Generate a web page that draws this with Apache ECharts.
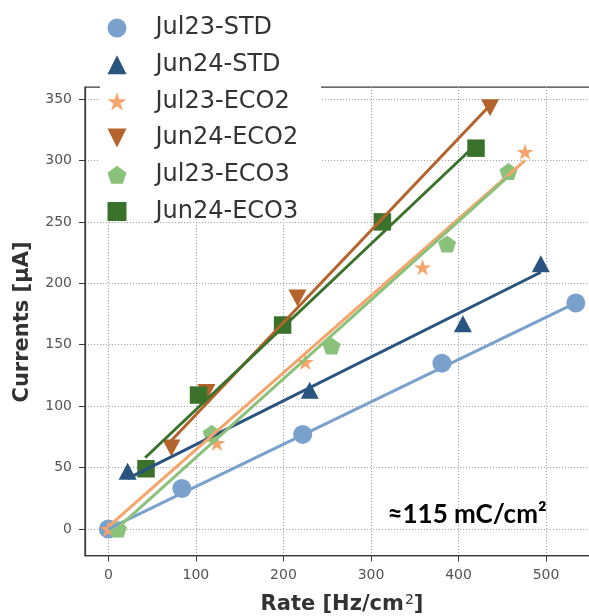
<!DOCTYPE html>
<html>
<head>
<meta charset="utf-8">
<script src="https://cdn.jsdelivr.net/npm/echarts@6/dist/echarts.min.js"></script>
<style>
  html, body { margin: 0; padding: 0; background: #ffffff; }
  #chart { width: 589px; height: 616px; }
</style>
</head>
<body>
<div id="chart"></div>
<script>
// ---- measured currents vs. rate ----
const seriesNames = ['Jul23-STD', 'Jun24-STD', 'Jul23-ECO2', 'Jun24-ECO2', 'Jul23-ECO3', 'Jun24-ECO3'];

const jul23StdRate = [0, 84, 222, 381, 534];
const jul23StdCurrent = [0, 33, 77, 135, 184];

const jun24StdRate = [22, 230, 405, 494];
const jun24StdCurrent = [47, 113, 167, 216];

const jul23Eco2Rate = [0, 124, 225, 359, 476];
const jul23Eco2Current = [0, 70, 136, 213, 307];

const jun24Eco2Rate = [72, 112, 216, 436];
const jun24Eco2Current = [66, 111, 188, 343];

const jul23Eco3Rate = [11, 118, 255, 387, 457];
const jul23Eco3Current = [0, 78, 149, 232, 291];

const jun24Eco3Rate = [43, 103, 199, 313, 420];
const jun24Eco3Current = [49, 109, 166, 250, 310];

// ---- linear fits (start / end of each fitted line) ----
const jul23StdFitRate = [0, 534];
const jul23StdFitCurrent = [0, 184];
const jun24StdFitRate = [22, 494];
const jun24StdFitCurrent = [41, 209];
const jul23Eco2FitRate = [0, 476];
const jul23Eco2FitCurrent = [2, 300];
const jun24Eco2FitRate = [72, 436];
const jun24Eco2FitCurrent = [72, 345];
const jul23Eco3FitRate = [11, 457];
const jul23Eco3FitCurrent = [1, 287];
const jun24Eco3FitRate = [42, 420];
const jun24Eco3FitCurrent = [58, 313];

// ---- axis ticks ----
const rateTicks = [0, 100, 200, 300, 400, 500];
const currentTicks = [0, 50, 100, 150, 200, 250, 300, 350];

const colors = ['#7aa1cc', '#28547f', '#f5a46c', '#b3632b', '#8bc27b', '#3b722b'];

const starPath = 'path://M100,0 L122.45,69.1 L195.11,69.1 L136.33,111.8 L158.78,180.9 L100,138.2 L41.22,180.9 L63.67,111.8 L4.89,69.1 L77.55,69.1 Z';
const pentagonPath = 'path://M100,0 L195.11,69.1 L158.78,180.9 L41.22,180.9 L4.89,69.1 Z';
const downTrianglePath = 'path://M0,0 L200,0 L100,200 Z';

const pairs = (xs, ys) => xs.map((x, i) => [x, ys[i]]);

const groups = [
  { rate: jul23StdRate, cur: jul23StdCurrent, fitRate: jul23StdFitRate, fitCur: jul23StdFitCurrent,
    symbol: 'circle', size: 19 },
  { rate: jun24StdRate, cur: jun24StdCurrent, fitRate: jun24StdFitRate, fitCur: jun24StdFitCurrent,
    symbol: 'triangle', size: [18, 17] },
  { rate: jul23Eco2Rate, cur: jul23Eco2Current, fitRate: jul23Eco2FitRate, fitCur: jul23Eco2FitCurrent,
    symbol: starPath, size: [17, 16] },
  { rate: jun24Eco2Rate, cur: jun24Eco2Current, fitRate: jun24Eco2FitRate, fitCur: jun24Eco2FitCurrent,
    symbol: downTrianglePath, size: [18, 17] },
  { rate: jul23Eco3Rate, cur: jul23Eco3Current, fitRate: jul23Eco3FitRate, fitCur: jul23Eco3FitCurrent,
    symbol: pentagonPath, size: [18, 17] },
  { rate: jun24Eco3Rate, cur: jun24Eco3Current, fitRate: jun24Eco3FitRate, fitCur: jun24Eco3FitCurrent,
    symbol: 'rect', size: 17.5 }
];

const series = [];
groups.forEach((g, i) => {
  series.push({
    name: seriesNames[i],
    type: 'scatter',
    data: pairs(g.rate, g.cur),
    symbol: g.symbol,
    symbolSize: g.size,
    itemStyle: { color: colors[i], opacity: 1 },
    z: 2,
    silent: true
  });
  series.push({
    name: seriesNames[i] + ' fit',
    type: 'line',
    data: pairs(g.fitRate, g.fitCur),
    showSymbol: false,
    symbol: 'none',
    lineStyle: { color: colors[i], width: 3 },
    z: 3,
    silent: true,
    animation: false
  });
});

// plot frame (right edge of the frame lies just past the canvas edge)
const gridLeft = 85, gridTop = 87, gridWidth = 514.2, gridHeight = 468.5;

const chart = echarts.init(document.getElementById('chart'), null, { renderer: 'canvas' });
chart.setOption({
  animation: false,
  backgroundColor: '#ffffff',
  color: colors,
  grid: {
    left: gridLeft, top: gridTop, width: gridWidth, height: gridHeight,
    containLabel: false,
    outerBoundsMode: 'none',
    show: true,
    borderColor: '#3a3a3a',
    borderWidth: 1.25,
    backgroundColor: 'transparent'
  },
  xAxis: {
    type: 'value',
    min: -26.7, max: 560.7,
    axisLine: { show: true, onZero: false, lineStyle: { color: '#3a3a3a', width: 1.25 } },
    axisTick: { show: true, length: 6, customValues: rateTicks, lineStyle: { color: '#3a3a3a', width: 1 } },
    axisLabel: { customValues: rateTicks, color: '#555555', fontSize: 14, fontFamily: 'DejaVu Sans', margin: 13 },
    splitLine: { show: true, lineStyle: { color: '#a8a8a8', width: 1, type: [1.2, 1.8] } }
  },
  yAxis: {
    type: 'value',
    min: -21.6, max: 359.8,
    axisLine: { show: true, onZero: false, lineStyle: { color: '#3a3a3a', width: 1.25 } },
    axisTick: { show: true, length: 6, customValues: currentTicks, lineStyle: { color: '#3a3a3a', width: 1 } },
    axisLabel: { customValues: currentTicks, color: '#555555', fontSize: 14, fontFamily: 'DejaVu Sans', margin: 13 },
    splitLine: { show: true, lineStyle: { color: '#a8a8a8', width: 1, type: [1.2, 1.8] } }
  },
  legend: {
    show: true,
    orient: 'vertical',
    left: 102.5,
    top: 11,
    itemWidth: 19,
    itemHeight: 19,
    itemGap: 12.7,
    symbolKeepAspect: true,
    selectedMode: false,
    data: seriesNames,
    textStyle: { fontFamily: 'DejaVu Sans', fontSize: 24, color: '#333333', padding: [0, 0, 0, 24] }
  },
  graphic: [
    // legend backdrop hides the grid behind the legend
    { type: 'rect', z: 1, silent: true,
      shape: { x: 100, y: -5, width: 221, height: 223 },
      style: { fill: '#ffffff' } },
    { type: 'text', z: 5, silent: true, x: 342, y: 605,
      style: {
        text: '{b|Rate [Hz/cm}{s|2}{b|]}',
        align: 'center', verticalAlign: 'middle',
        rich: {
          b: { fontFamily: 'DejaVu Sans', fontWeight: 'bold', fontSize: 21, fill: '#333333' },
          s: { fontFamily: 'DejaVu Sans', fontSize: 14, fill: '#333333', padding: [0, 0, 10, 1] }
        }
      } },
    { type: 'text', z: 5, silent: true, x: 23, y: 322, rotation: Math.PI / 2,
      style: {
        text: 'Currents [μA]',
        align: 'center', verticalAlign: 'middle',
        fontFamily: 'DejaVu Sans', fontWeight: 'bold', fontSize: 21, fill: '#333333'
      } },
    { type: 'text', z: 5, silent: true, x: 467, y: 515,
      style: {
        text: '≈115 mC/cm²',
        align: 'center', verticalAlign: 'middle',
        fontFamily: 'Lato', fontWeight: 'bold', fontSize: 26, fill: '#000000'
      } }
  ],
  series: series
});
</script>
</body>
</html>
